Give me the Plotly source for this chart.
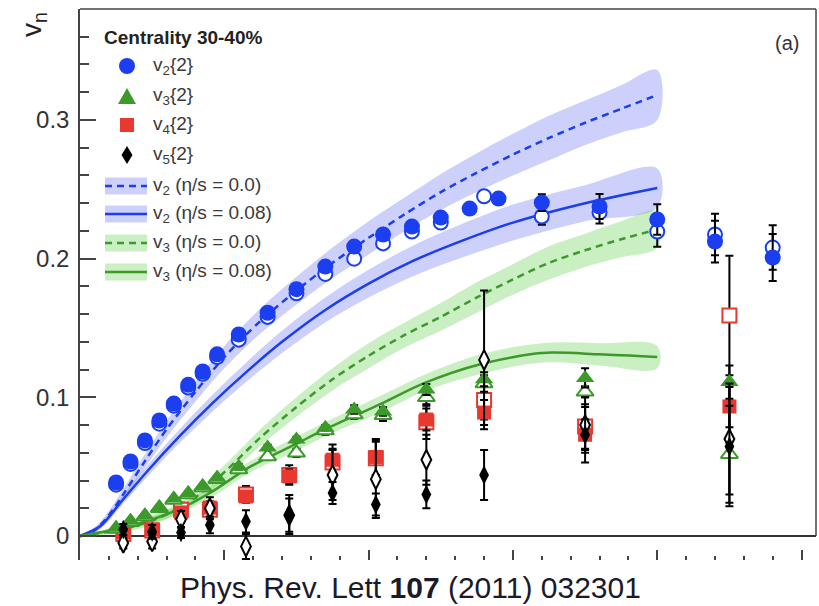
import plotly.graph_objects as go

# ---------------- measured v_n{2}, centrality 30-40% ----------------
# full markers
v2_pt = [0.25, 0.35, 0.45, 0.55, 0.65, 0.75, 0.85, 0.95, 1.1, 1.3, 1.5, 1.7, 1.9,
         2.1, 2.3, 2.5, 2.7, 2.9, 3.2, 3.6, 4.0, 4.4, 4.8]
v2_val = [0.0386, 0.0537, 0.0689, 0.0833, 0.0955, 0.1090, 0.1186, 0.1310, 0.1453,
          0.1610, 0.1780, 0.1943, 0.2087, 0.2174, 0.2231, 0.2296, 0.2361, 0.2433,
          0.2404, 0.2376, 0.2282, 0.2123, 0.2008]
v2_err = [0.001, 0.001, 0.001, 0.001, 0.001, 0.001, 0.001, 0.001, 0.001, 0.001,
          0.001, 0.001, 0.002, 0.002, 0.002, 0.002, 0.002, 0.003, 0.006, 0.009,
          0.011, 0.015, 0.017]

v3_pt = [0.25, 0.35, 0.45, 0.55, 0.65, 0.75, 0.85, 0.95, 1.1, 1.3, 1.5, 1.7, 1.9,
         2.1, 2.4, 2.8, 3.5, 4.5]
v3_val = [0.006, 0.011, 0.015, 0.021, 0.027, 0.031, 0.036, 0.042, 0.050, 0.0638,
          0.0696, 0.078, 0.0912, 0.0898, 0.1056, 0.113, 0.114, 0.111]
v3_err = [0.001, 0.001, 0.001, 0.001, 0.001, 0.001, 0.001, 0.001, 0.002, 0.002,
          0.002, 0.002, 0.003, 0.003, 0.004, 0.005, 0.007, 0.012]

v45_pt = [0.3, 0.5, 0.7, 0.9, 1.15, 1.45, 1.75, 2.05, 2.4, 2.8, 3.5, 4.5]
v4_val = [0.0025, 0.0047, 0.017, 0.0205, 0.0285, 0.043, 0.055, 0.057, 0.084,
          0.089, 0.073, 0.0934]
v4_err = [0.002, 0.003, 0.003, 0.004, 0.004, 0.005, 0.011, 0.013, 0.008, 0.009,
          0.011, 0.015]
v5_val = [0.0047, 0.003, 0.0025, 0.008, 0.0105, 0.0155, 0.031, 0.0227, 0.030,
          0.044, 0.073, 0.0645]
v5_err = [0.004, 0.005, 0.004, 0.006, 0.008, 0.014, 0.008, 0.008, 0.010, 0.018,
          0.020, 0.043]

# open markers (with a pseudorapidity gap)
v2g_pt = [0.25, 0.35, 0.45, 0.55, 0.65, 0.75, 0.85, 0.95, 1.1, 1.3, 1.5, 1.7, 1.9,
          2.1, 2.3, 2.5, 2.8, 3.2, 3.6, 4.0, 4.4, 4.8]
v2g_val = [0.037, 0.052, 0.067, 0.081, 0.094, 0.107, 0.117, 0.129, 0.1416, 0.158,
           0.175, 0.189, 0.200, 0.211, 0.2195, 0.226, 0.245, 0.2304, 0.2333,
           0.2195, 0.2174, 0.2080]
v2g_err = [0.001, 0.001, 0.001, 0.001, 0.001, 0.001, 0.001, 0.001, 0.001, 0.001,
           0.001, 0.002, 0.002, 0.002, 0.002, 0.002, 0.003, 0.006, 0.008, 0.011,
           0.015, 0.016]
v3g_val = [0.005, 0.010, 0.014, 0.020, 0.026, 0.030, 0.035, 0.041, 0.048, 0.0573,
           0.060, 0.076, 0.0876, 0.087, 0.100, 0.110, 0.104, 0.059]
v3g_err = [0.001, 0.001, 0.001, 0.001, 0.001, 0.001, 0.001, 0.002, 0.002, 0.002,
           0.003, 0.003, 0.003, 0.004, 0.005, 0.006, 0.004, 0.035]
v4g_val = [0.0015, 0.004, 0.019, 0.019, 0.030, 0.044, 0.053, 0.056, 0.082, 0.098,
           0.079, 0.159]
v4g_err = [0.003, 0.004, 0.005, 0.006, 0.006, 0.007, 0.010, 0.012, 0.012, 0.014,
           0.016, 0.043]
v5g_val = [-0.005, -0.004, 0.012, 0.020, -0.0075, 0.015, 0.044, 0.041, 0.055,
           0.127, 0.080, 0.070]
v5g_err = [0.004, 0.005, 0.006, 0.008, 0.009, 0.012, 0.018, 0.028, 0.018, 0.050,
           0.020, 0.040]

# ---------------- viscous hydro predictions ----------------
h_v2_ideal_pt = [0, 0.1, 0.2, 0.3, 0.45, 0.6, 0.8, 1.0, 1.25, 1.5, 1.75, 2.0, 2.25,
                 2.5, 2.75, 3.0, 3.25, 3.5, 3.75, 4.0]
h_v2_ideal = [0, 0.004, 0.015, 0.030, 0.054, 0.077, 0.104, 0.129, 0.155, 0.177,
              0.197, 0.215, 0.232, 0.248, 0.262, 0.275, 0.287, 0.298, 0.308, 0.318]
h_v2_ideal_unc = [0.001, 0.002, 0.003, 0.004, 0.005, 0.006, 0.007, 0.008, 0.009,
                  0.010, 0.011, 0.012, 0.012, 0.013, 0.014, 0.015, 0.016, 0.016,
                  0.017, 0.018]

h_v2_visc_pt = [0, 0.14, 0.28, 0.46, 0.69, 0.92, 1.15, 1.4, 1.7, 2.0, 2.3, 2.6,
                3.0, 3.5, 4.0]
h_v2_visc = [0, 0.007, 0.024, 0.046, 0.072, 0.096, 0.118, 0.140, 0.163, 0.182,
             0.198, 0.211, 0.226, 0.240, 0.251]
h_v2_visc_unc = [0.001, 0.002, 0.003, 0.004, 0.005, 0.006, 0.007, 0.008, 0.009,
                 0.010, 0.011, 0.012, 0.013, 0.013, 0.014]

h_v3_ideal_pt = [0, 0.25, 0.5, 0.75, 1.0, 1.25, 1.5, 1.75, 2.0, 2.25, 2.5, 2.75,
                 3.0, 3.25, 3.5, 3.75, 4.0]
h_v3_ideal = [0, 0.004, 0.011, 0.024, 0.046, 0.071, 0.093, 0.113, 0.130, 0.145,
              0.158, 0.172, 0.185, 0.197, 0.206, 0.214, 0.221]
h_v3_ideal_unc = [0.001, 0.002, 0.003, 0.004, 0.005, 0.006, 0.007, 0.008, 0.009,
                  0.009, 0.010, 0.011, 0.011, 0.012, 0.012, 0.013, 0.013]

h_v3_visc_pt = [0, 0.3, 0.5, 0.7, 0.9, 1.18, 1.49, 1.7, 2.1, 2.38, 2.78, 3.2, 3.6, 4.0]
h_v3_visc = [0, 0.006, 0.012, 0.020, 0.031, 0.050, 0.066, 0.077, 0.096, 0.110,
             0.124, 0.132, 0.131, 0.129]
h_v3_visc_unc = [0.001, 0.002, 0.003, 0.003, 0.004, 0.004, 0.005, 0.005, 0.006,
                 0.006, 0.007, 0.007, 0.008, 0.008]

BLUE = "#1a3ef0"
GREEN = "#3c9a2a"
RED = "#e8382f"
BLACK = "#000000"
BLUE_BAND = "rgba(110,120,240,0.35)"
GREEN_BAND = "rgba(100,210,80,0.35)"
DASH = "7px,5px"
FONT = "Liberation Sans, Arial, Helvetica, sans-serif"

fig = go.Figure()


def band(pt, val, unc, color):
    upper = [v + u for v, u in zip(val, unc)]
    lower = [v - u for v, u in zip(val, unc)]
    fig.add_trace(go.Scatter(
        x=list(pt) + list(pt)[::-1], y=upper + lower[::-1],
        fill="toself", fillcolor=color, line=dict(width=0, shape="spline"),
        mode="lines", hoverinfo="skip", showlegend=False))


def curve(pt, val, color, dash, name):
    fig.add_trace(go.Scatter(
        x=pt, y=val, mode="lines", name=name, showlegend=False,
        line=dict(color=color, width=2.5, dash=dash, shape="spline", smoothing=0.8)))


band(h_v2_ideal_pt, h_v2_ideal, h_v2_ideal_unc, BLUE_BAND)
band(h_v2_visc_pt, h_v2_visc, h_v2_visc_unc, BLUE_BAND)
band(h_v3_ideal_pt, h_v3_ideal, h_v3_ideal_unc, GREEN_BAND)
band(h_v3_visc_pt, h_v3_visc, h_v3_visc_unc, GREEN_BAND)
curve(h_v2_ideal_pt, h_v2_ideal, BLUE, DASH, "v2 (eta/s = 0.0)")
curve(h_v2_visc_pt, h_v2_visc, BLUE, "solid", "v2 (eta/s = 0.08)")
curve(h_v3_ideal_pt, h_v3_ideal, GREEN, DASH, "v3 (eta/s = 0.0)")
curve(h_v3_visc_pt, h_v3_visc, GREEN, "solid", "v3 (eta/s = 0.08)")


def points(pt, val, err, symbol, size, color, hollow, name):
    marker = dict(symbol=symbol, size=size,
                  color="white" if hollow else color,
                  line=dict(color=color, width=2 if hollow else 0))
    fig.add_trace(go.Scatter(
        x=pt, y=val, mode="markers", name=name, showlegend=False, marker=marker,
        error_y=dict(type="data", array=err, color=BLACK, thickness=2, width=4)))


points(v45_pt, v4g_val, v4g_err, "square", 14, RED, True, "v4{2, gap}")
points(v45_pt, v4_val, v4_err, "square", 14, RED, False, "v4{2}")
points(v3_pt, v3g_val, v3g_err, "triangle-up", 15, GREEN, True, "v3{2, gap}")
points(v3_pt, v3_val, v3_err, "triangle-up", 16, GREEN, False, "v3{2}")
points(v2g_pt, v2g_val, v2g_err, "circle", 14, BLUE, True, "v2{2, gap}")
points(v2_pt, v2_val, v2_err, "circle", 16, BLUE, False, "v2{2}")
points(v45_pt, v5g_val, v5g_err, "diamond-tall", 14, BLACK, True, "v5{2, gap}")
points(v45_pt, v5_val, v5_err, "diamond-tall", 14, BLACK, False, "v5{2}")

# ---------------- frame & legend ----------------
L, R, T, B = 80, 816, 9, 560
W, H = 819, 606


def px(x):
    return (x - L) / (R - L)


def py(y):
    return (B - y) / (B - T)


shapes = [
    dict(type="line", xref="paper", yref="paper", x0=0, x1=1, y0=1, y1=1,
         line=dict(color="#444", width=1.5)),
    dict(type="line", xref="paper", yref="y", x0=1, x1=1, y0=0, y1=0.38,
         line=dict(color="#444", width=1.5)),
]
annotations = []

annotations.append(dict(text="<b>Centrality 30-40%</b>", x=px(102), y=py(37),
                        xref="paper", yref="paper", xanchor="left", yanchor="middle",
                        showarrow=False, font=dict(size=19, color="#222", family=FONT)))

cx = 127
# marker keys
shapes.append(dict(type="circle", xref="paper", yref="paper",
                   x0=px(cx - 8), x1=px(cx + 8), y0=py(74), y1=py(58),
                   fillcolor=BLUE, line=dict(width=0)))
tri = "M{:.5f},{:.5f} L{:.5f},{:.5f} L{:.5f},{:.5f} Z".format(
    px(cx), py(88), px(cx - 9), py(104), px(cx + 9), py(104))
shapes.append(dict(type="path", xref="paper", yref="paper", path=tri,
                   fillcolor=GREEN, line=dict(width=0)))
shapes.append(dict(type="rect", xref="paper", yref="paper",
                   x0=px(cx - 7), x1=px(cx + 7), y0=py(132), y1=py(118),
                   fillcolor=RED, line=dict(width=0)))
dia = "M{:.5f},{:.5f} L{:.5f},{:.5f} L{:.5f},{:.5f} L{:.5f},{:.5f} Z".format(
    px(cx), py(146), px(cx + 5.5), py(155), px(cx), py(164), px(cx - 5.5), py(155))
shapes.append(dict(type="path", xref="paper", yref="paper", path=dia,
                   fillcolor=BLACK, line=dict(width=0)))

marker_labels = [("v<sub>2</sub>{2}", 66), ("v<sub>3</sub>{2}", 96),
                 ("v<sub>4</sub>{2}", 125), ("v<sub>5</sub>{2}", 155)]
for txt, yy in marker_labels:
    annotations.append(dict(text=txt, x=px(151), y=py(yy), xref="paper", yref="paper",
                            xanchor="left", yanchor="middle", showarrow=False,
                            font=dict(size=19, color="#3a3a3a", family=FONT)))

curve_keys = [("v<sub>2</sub> (η/s = 0.0)", 186, BLUE, BLUE_BAND, DASH),
              ("v<sub>2</sub> (η/s = 0.08)", 214, BLUE, BLUE_BAND, "solid"),
              ("v<sub>3</sub> (η/s = 0.0)", 243, GREEN, GREEN_BAND, DASH),
              ("v<sub>3</sub> (η/s = 0.08)", 272, GREEN, GREEN_BAND, "solid")]
for txt, yy, lc, bc, ds in curve_keys:
    shapes.append(dict(type="rect", xref="paper", yref="paper",
                       x0=px(105), x1=px(147), y0=py(yy + 8.5), y1=py(yy - 8.5),
                       fillcolor=bc, line=dict(width=0)))
    shapes.append(dict(type="line", xref="paper", yref="paper",
                       x0=px(105), x1=px(147), y0=py(yy), y1=py(yy),
                       line=dict(color=lc, width=2.5, dash=ds)))
    annotations.append(dict(text=txt, x=px(151), y=py(yy), xref="paper", yref="paper",
                            xanchor="left", yanchor="middle", showarrow=False,
                            font=dict(size=19, color="#3a3a3a", family=FONT)))

annotations.append(dict(text="(a)", x=px(801), y=py(43), xref="paper", yref="paper",
                        xanchor="right", yanchor="middle", showarrow=False,
                        font=dict(size=20, color="#333", family=FONT)))
annotations.append(dict(text="v<sub>n</sub>", x=px(33), y=py(24), xref="paper",
                        yref="paper", xanchor="center", yanchor="middle",
                        textangle=-90, showarrow=False,
                        font=dict(size=28, color="#222", family=FONT)))
annotations.append(dict(text="Phys. Rev. Lett <b>107</b> (2011) 032301",
                        x=px(410), y=py(587), xref="paper", yref="paper",
                        xanchor="center", yanchor="middle", showarrow=False,
                        font=dict(size=30, color="#1a1a2a", family=FONT)))

fig.update_layout(
    width=W, height=H,
    margin=dict(l=L, r=W - R, t=T, b=H - B),
    paper_bgcolor="white", plot_bgcolor="white",
    showlegend=False,
    font=dict(family=FONT, color="#333"),
    shapes=shapes, annotations=annotations,
    xaxis=dict(range=[0, 5.1], showgrid=False, zeroline=False, showline=False,
               showticklabels=False, ticks="inside", ticklen=10, tickwidth=1.5,
               tickcolor="#444", tick0=0, dtick=1,
               minor=dict(ticks="inside", ticklen=4, tickwidth=1.5,
                          tickcolor="#444", dtick=0.2, showgrid=False)),
    yaxis=dict(range=[-0.0173, 0.38], showgrid=False, zeroline=True,
               zerolinecolor="#333", zerolinewidth=1.5,
               showline=True, linecolor="#444", linewidth=1.5,
               ticks="inside", ticklen=16, tickwidth=1.5, tickcolor="#444",
               tickvals=[0, 0.1, 0.2, 0.3], ticktext=["0", "0.1", "0.2", "0.3"],
               tickfont=dict(size=24, color="#333", family=FONT),
               ticklabelstandoff=4,
               minor=dict(ticks="inside", ticklen=9, tickwidth=1.5,
                          tickcolor="#444", dtick=0.02, tick0=0, showgrid=False)),
)

fig.write_html("out.html")
